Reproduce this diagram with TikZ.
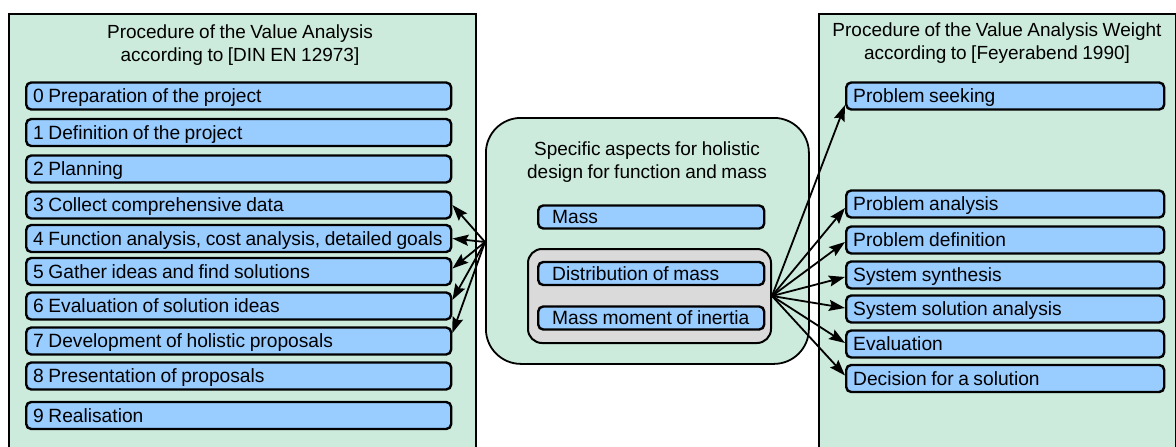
\documentclass[tikz,border=0pt]{standalone}
\usepackage{fontspec}
\setmainfont{Liberation Sans}[WordSpace=0.85]
\usetikzlibrary{arrows.meta,calc}
\definecolor{panelgreen}{RGB}{205,235,220}
\definecolor{boxblue}{RGB}{153,204,255}
\definecolor{greybox}{RGB}{218,218,218}
\begin{document}
\begin{tikzpicture}[x=1pt,y=-1pt,
  panel/.style={draw=black, line width=1.8pt, fill=panelgreen, inner sep=0pt, anchor=north west},
  titletext/.style={align=center, font=\fontsize{19}{23}\selectfont, inner sep=0pt},
  basebox/.style={draw=black, line width=2.4pt, fill=boxblue, rounded corners=5pt, anchor=west,
    inner ysep=0pt, text height=13.8pt, text depth=0pt, font=\fontsize{19.2}{22}\selectfont,
    execute at end node={\hfil\egroup}},
  lbox/.style={basebox, inner xsep=7pt, minimum height=27pt, execute at begin node={\hbox to 411pt\bgroup}},
  rbox/.style={basebox, inner xsep=7pt, minimum height=27pt, execute at begin node={\hbox to 304pt\bgroup}},
  mbox/.style={basebox, inner xsep=14pt, minimum height=23pt, execute at begin node={\hbox to 198pt\bgroup}},
  arr/.style={line width=1.8pt, -{Stealth[length=16pt,width=11pt,inset=2.5pt]}}
]
\useasboundingbox (0,0) rectangle (1176,447);

% panels
\node[panel, minimum width=467pt, minimum height=445pt] (lp) at (8,13) {};
\node[panel, minimum width=357pt, minimum height=445pt] (rp) at (818,13) {};
\node[panel, rounded corners=35pt, minimum width=323pt, minimum height=246pt] (mp) at (485,117) {};
\node[draw=black, line width=2pt, fill=greybox, rounded corners=14pt, anchor=north west,
      minimum width=243pt, minimum height=94pt, inner sep=0pt] (gp) at (527,248) {};

% titles
\node[titletext] (lt) at (240,45) {Procedure of the Value Analysis\\according to [DIN EN 12973]};
\node[titletext] (rt) at (997,43) {Procedure of the Value Analysis Weight\\according to [Feyerabend 1990]};
\node[titletext] (mt) at (647,162) {Specific aspects for holistic\\design for function and mass};

% left boxes
\node[lbox] (b0) at (25,96)    {0 Preparation of the project};
\node[lbox] (b1) at (25,132.5) {1 Definition of the project};
\node[lbox] (b2) at (25,169)   {2 Planning};
\node[lbox] (b3) at (25,205)   {3 Collect comprehensive data};
\node[lbox] (b4) at (25,238.5) {4 Function analysis, cost analysis, detailed goals};
\node[lbox] (b5) at (25,271.5) {5 Gather ideas and find solutions};
\node[lbox] (b6) at (25,306)   {6 Evaluation of solution ideas};
\node[lbox] (b7) at (25,341)   {7 Development of holistic proposals};
\node[lbox] (b8) at (25,376)   {8 Presentation of proposals};
\node[lbox] (b9) at (25,415.5) {9 Realisation};

% middle boxes
\node[mbox] (m0) at (537,217)   {Mass};
\node[mbox] (m1) at (537,273.5) {Distribution of mass};
\node[mbox] (m2) at (537,318)   {Mass moment of inertia};

% right boxes
\node[rbox] (r0) at (845,96)  {Problem seeking};
\node[rbox] (r1) at (845,204) {Problem analysis};
\node[rbox] (r2) at (845,240) {Problem definition};
\node[rbox] (r3) at (845,275) {System synthesis};
\node[rbox] (r4) at (845,309) {System solution analysis};
\node[rbox] (r5) at (845,344) {Evaluation};
\node[rbox] (r6) at (845,378.5) {Decision for a solution};

% connectors
\coordinate (lsrc) at (mp.west |- 0,242);
\coordinate (rsrc) at (gp.east |- 0,296);
\draw[arr] (lsrc) -- ($(b3.east)+(0,0)$);
\draw[arr] (lsrc) -- ($(b4.east)+(0,0)$);
\draw[arr] (lsrc) -- ($(b5.east)+(0,-3)$);
\draw[arr] (lsrc) -- ($(b6.east)+(0,-6)$);
\draw[arr] (lsrc) -- ($(b7.east)+(0,-8)$);

\draw[arr] (rsrc) -- ($(r0.west)+(0,9)$);
\draw[arr] (rsrc) -- ($(r1.west)+(0,4)$);
\draw[arr] (rsrc) -- ($(r2.west)+(0,2)$);
\draw[arr] (rsrc) -- ($(r3.west)+(0,2)$);
\draw[arr] (rsrc) -- ($(r4.west)+(0,-1)$);
\draw[arr] (rsrc) -- ($(r5.west)+(0,-1)$);
\draw[arr] (rsrc) -- ($(r6.west)+(0,-3)$);
\end{tikzpicture}
\end{document}
